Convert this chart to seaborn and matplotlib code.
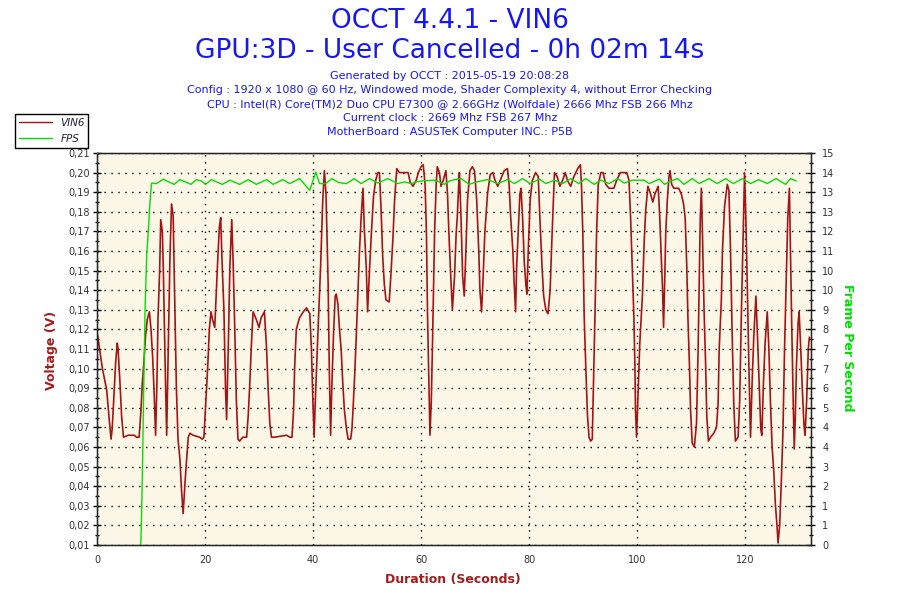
import matplotlib
matplotlib.use("Agg")
import matplotlib.pyplot as plt
from matplotlib.ticker import MultipleLocator, FixedLocator
from matplotlib.lines import Line2D
import seaborn as sns
import pandas as pd
import numpy as np

# ---------------- data ----------------
vin6_time = [0.0, 1.0, 1.8, 2.2, 2.6, 2.8, 3.0, 3.45, 3.75, 3.9, 4.25, 4.55, 4.9, 5.8, 6.9, 7.3, 7.8, 8.1, 8.4, 8.7, 9.0, 9.3, 9.7, 10.0, 10.3, 10.6, 10.85, 11.1, 11.3, 11.6, 11.8, 12.1, 12.3, 12.6, 12.9, 13.2, 13.5, 13.8, 14.1, 14.4, 14.7, 15.0, 15.35, 15.65, 15.95, 16.3, 16.6, 16.9, 17.2, 17.8, 19.0, 19.5, 19.8, 20.1, 20.5, 20.8, 21.1, 21.4, 21.8, 22.1, 22.3, 22.65, 22.9, 23.15, 23.5, 23.8, 24.0, 24.3, 24.6, 24.95, 25.2, 25.5, 25.8, 26.1, 26.4, 27.0, 27.7, 28.0, 28.3, 28.6, 28.9, 29.5, 30.0, 30.4, 31.0, 31.4, 31.7, 32.0, 32.3, 32.9, 35.1, 35.7, 36.1, 36.4, 36.6, 36.9, 37.5, 38.2, 38.8, 39.4, 39.7, 40.0, 40.2, 40.4, 40.9, 41.4, 41.8, 42.1, 42.4, 42.8, 43.0, 43.25, 43.5, 43.8, 44.1, 44.3, 44.6, 44.9, 45.2, 45.5, 45.8, 46.2, 46.5, 46.95, 47.2, 47.4, 47.7, 48.0, 48.3, 48.6, 48.9, 49.25, 49.5, 49.85, 50.1, 50.45, 50.8, 51.2, 51.6, 52.0, 52.3, 52.6, 52.9, 53.2, 53.5, 54.1, 54.4, 54.8, 55.1, 55.5, 56.0, 56.9, 57.6, 58.0, 58.5, 59.1, 59.5, 60.0, 60.4, 60.75, 61.0, 61.2, 61.45, 61.65, 61.9, 62.1, 62.3, 62.5, 62.8, 63.0, 63.4, 63.7, 64.1, 64.6, 64.9, 65.2, 65.5, 65.8, 66.2, 66.5, 66.7, 66.97, 67.1, 67.4, 67.7, 68.0, 68.3, 68.6, 69.05, 69.5, 69.9, 70.3, 70.7, 70.9, 71.2, 71.5, 71.8, 72.3, 72.8, 73.3, 73.7, 74.2, 74.8, 75.4, 76.0, 76.3, 76.6, 77.0, 77.25, 77.5, 77.7, 78.1, 78.3, 78.5, 78.8, 79.1, 79.4, 79.6, 79.85, 80.2, 80.6, 81.2, 81.7, 82.0, 82.4, 82.7, 83.1, 83.5, 83.9, 84.2, 84.5, 84.7, 85.2, 85.7, 86.2, 86.7, 87.1, 87.7, 88.3, 89.0, 89.5, 89.7, 89.95, 90.2, 90.5, 90.8, 91.1, 91.4, 91.7, 91.9, 92.2, 92.5, 92.8, 93.3, 93.7, 94.2, 94.8, 95.7, 96.2, 96.9, 97.6, 98.1, 98.5, 98.8, 99.1, 99.4, 99.6, 99.7, 99.9, 100.2, 100.5, 101.0, 101.3, 101.6, 102.0, 102.4, 102.9, 103.3, 103.9, 104.2, 104.5, 104.7, 104.9, 105.1, 105.3, 105.6, 105.9, 106.1, 106.4, 106.8, 107.7, 108.2, 108.6, 108.9, 109.2, 109.4, 109.7, 109.9, 110.2, 110.6, 111.0, 111.3, 111.5, 111.7, 111.9, 112.1, 112.4, 112.7, 112.9, 113.2, 113.6, 114.2, 114.7, 115.0, 115.2, 115.6, 115.8, 116.2, 116.7, 117.0, 117.3, 117.6, 117.9, 118.2, 118.7, 119.0, 119.3, 119.6, 119.9, 120.1, 120.4, 120.7, 121.0, 121.3, 121.6, 121.9, 122.0, 122.3, 122.6, 122.9, 123.1, 123.4, 123.7, 124.1, 124.4, 124.7, 125.0, 125.3, 125.6, 125.9, 126.1, 126.4, 126.7, 127.0, 127.3, 127.6, 127.9, 128.2, 128.4, 128.6, 128.9, 129.1, 129.3, 129.5, 129.8, 130.0, 130.3, 130.6, 130.9, 131.1, 131.4, 131.7, 131.9]
vin6_volt = [0.119, 0.100, 0.089, 0.076, 0.064, 0.069, 0.079, 0.103, 0.113, 0.110, 0.093, 0.076, 0.065, 0.066, 0.066, 0.065, 0.065, 0.077, 0.093, 0.104, 0.117, 0.125, 0.129, 0.120, 0.106, 0.086, 0.066, 0.093, 0.126, 0.150, 0.176, 0.170, 0.148, 0.104, 0.066, 0.110, 0.156, 0.184, 0.178, 0.134, 0.090, 0.064, 0.054, 0.038, 0.026, 0.042, 0.054, 0.065, 0.067, 0.066, 0.065, 0.064, 0.065, 0.080, 0.101, 0.120, 0.129, 0.125, 0.121, 0.140, 0.152, 0.172, 0.177, 0.155, 0.130, 0.089, 0.074, 0.110, 0.152, 0.176, 0.155, 0.121, 0.084, 0.064, 0.063, 0.065, 0.065, 0.076, 0.093, 0.113, 0.129, 0.125, 0.121, 0.126, 0.129, 0.110, 0.089, 0.072, 0.065, 0.065, 0.066, 0.065, 0.065, 0.079, 0.101, 0.120, 0.126, 0.129, 0.131, 0.128, 0.110, 0.081, 0.065, 0.082, 0.118, 0.152, 0.186, 0.201, 0.189, 0.143, 0.101, 0.066, 0.093, 0.118, 0.137, 0.138, 0.133, 0.120, 0.110, 0.093, 0.079, 0.069, 0.064, 0.064, 0.069, 0.079, 0.096, 0.116, 0.138, 0.160, 0.177, 0.192, 0.171, 0.152, 0.129, 0.150, 0.169, 0.188, 0.196, 0.200, 0.200, 0.181, 0.157, 0.143, 0.135, 0.134, 0.147, 0.167, 0.186, 0.202, 0.200, 0.200, 0.200, 0.195, 0.193, 0.196, 0.200, 0.203, 0.204, 0.194, 0.169, 0.127, 0.093, 0.066, 0.084, 0.110, 0.140, 0.169, 0.194, 0.203, 0.200, 0.193, 0.196, 0.201, 0.189, 0.166, 0.147, 0.130, 0.147, 0.169, 0.177, 0.194, 0.200, 0.177, 0.147, 0.137, 0.160, 0.186, 0.201, 0.203, 0.201, 0.186, 0.159, 0.140, 0.129, 0.147, 0.169, 0.189, 0.199, 0.200, 0.196, 0.193, 0.197, 0.201, 0.202, 0.194, 0.177, 0.160, 0.143, 0.129, 0.152, 0.177, 0.189, 0.192, 0.177, 0.155, 0.143, 0.138, 0.160, 0.186, 0.196, 0.200, 0.198, 0.177, 0.152, 0.137, 0.130, 0.128, 0.140, 0.164, 0.186, 0.200, 0.198, 0.193, 0.196, 0.200, 0.196, 0.193, 0.198, 0.202, 0.204, 0.194, 0.169, 0.127, 0.101, 0.077, 0.065, 0.063, 0.064, 0.089, 0.127, 0.169, 0.194, 0.200, 0.200, 0.194, 0.192, 0.192, 0.196, 0.200, 0.200, 0.200, 0.196, 0.177, 0.152, 0.127, 0.101, 0.079, 0.065, 0.089, 0.113, 0.138, 0.164, 0.181, 0.193, 0.190, 0.185, 0.189, 0.193, 0.177, 0.155, 0.142, 0.121, 0.143, 0.169, 0.186, 0.198, 0.201, 0.194, 0.192, 0.192, 0.189, 0.184, 0.177, 0.152, 0.127, 0.101, 0.079, 0.062, 0.060, 0.072, 0.110, 0.143, 0.177, 0.192, 0.169, 0.130, 0.101, 0.076, 0.063, 0.065, 0.067, 0.070, 0.082, 0.110, 0.135, 0.160, 0.183, 0.194, 0.191, 0.160, 0.118, 0.082, 0.063, 0.065, 0.084, 0.127, 0.164, 0.200, 0.181, 0.143, 0.101, 0.065, 0.093, 0.116, 0.132, 0.137, 0.116, 0.093, 0.069, 0.066, 0.093, 0.113, 0.129, 0.110, 0.082, 0.060, 0.048, 0.031, 0.020, 0.011, 0.020, 0.042, 0.067, 0.110, 0.143, 0.177, 0.192, 0.160, 0.127, 0.084, 0.059, 0.076, 0.101, 0.123, 0.129, 0.110, 0.089, 0.071, 0.066, 0.084, 0.110, 0.116]

fps_time = [8.1, 8.25, 8.45, 8.6, 8.75, 8.9, 9.2, 9.5, 9.8, 10.1, 11.0, 12.3, 13.2, 14.3, 15.3, 16.3, 17.4, 18.4, 19.3, 20.1, 21.2, 23.2, 24.6, 26.4, 28.0, 29.5, 31.4, 32.6, 34.4, 35.7, 37.5, 39.4, 40.5, 41.2, 42.3, 43.5, 44.7, 46.2, 47.6, 48.9, 50.45, 52.0, 53.85, 55.7, 56.9, 58.2, 59.1, 60.1, 62.5, 63.4, 64.3, 65.3, 66.2, 67.4, 68.9, 70.2, 72.3, 74.2, 76.0, 77.3, 78.8, 80.2, 81.9, 83.1, 84.7, 86.2, 87.7, 89.2, 90.5, 92.05, 93.3, 94.8, 96.4, 97.6, 99.1, 101.3, 102.2, 104.1, 105.1, 106.2, 107.5, 108.7, 110.2, 111.5, 113.3, 114.8, 116.4, 117.8, 119.5, 121.0, 122.5, 124.1, 125.7, 127.5, 128.4, 129.5]
fps_value = [0.0, 1.1, 3.3, 5.4, 7.2, 9.0, 11.1, 12.0, 13.1, 13.85, 13.83, 14.0, 13.9, 13.8, 13.98, 13.9, 13.8, 13.98, 13.93, 13.8, 13.98, 13.8, 13.96, 13.8, 13.98, 13.8, 13.98, 13.8, 13.98, 13.83, 14.02, 13.57, 14.27, 13.83, 13.83, 14.02, 13.87, 13.83, 14.02, 13.83, 14.02, 13.85, 14.02, 13.83, 13.89, 13.83, 13.89, 13.93, 13.96, 13.89, 13.8, 13.93, 13.98, 14.02, 13.8, 13.89, 13.98, 13.83, 13.98, 13.83, 14.02, 13.83, 14.0, 13.83, 13.96, 13.83, 14.02, 13.83, 14.02, 13.8, 13.96, 13.83, 14.02, 13.85, 13.96, 13.96, 13.83, 14.0, 13.8, 13.93, 14.02, 13.8, 14.02, 13.83, 14.02, 13.83, 14.02, 13.83, 14.02, 13.83, 13.98, 13.83, 14.02, 13.8, 14.02, 13.93]

volt_ticks = [0.01, 0.02, 0.03, 0.04, 0.05, 0.06, 0.07, 0.08, 0.09, 0.10, 0.11, 0.12, 0.13, 0.14, 0.15, 0.16, 0.17, 0.18, 0.19, 0.20, 0.21]
volt_tick_labels = ["0,01", "0,02", "0,03", "0,04", "0,05", "0,06", "0,07", "0,08", "0,09", "0,10", "0,11", "0,12", "0,13", "0,14", "0,15", "0,16", "0,17", "0,18", "0,19", "0,20", "0,21"]
fps_ticks = [0, 0.75, 1.5, 2.25, 3, 3.75, 4.5, 5.25, 6, 6.75, 7.5, 8.25, 9, 9.75, 10.5, 11.25, 12, 12.75, 13.5, 14.25, 15]
fps_tick_labels = ["0", "1", "1", "2", "3", "4", "4", "5", "6", "7", "7", "8", "9", "10", "10", "11", "12", "13", "13", "14", "15"]
time_ticks = [0, 20, 40, 60, 80, 100, 120]

title_lines = ["OCCT 4.4.1 - VIN6", "GPU:3D - User Cancelled - 0h 02m 14s"]
info_lines = ["Generated by OCCT : 2015-05-19 20:08:28",
              "Config : 1920 x 1080 @ 60 Hz, Windowed mode, Shader Complexity 4, without Error Checking",
              "CPU : Intel(R) Core(TM)2 Duo CPU E7300 @ 2.66GHz (Wolfdale) 2666 Mhz FSB 266 Mhz",
              "Current clock : 2669 Mhz FSB 267 Mhz",
              "MotherBoard : ASUSTeK Computer INC.: P5B"]

# ---------------- style ----------------
sns.set_style("white")
plt.rcParams['font.family'] = ['DejaVu Sans']

RED = "#a31515"
GREEN = "#00e000"
BLUE = "#1717f5"
LABEL_RED = "#a61c1c"
BG = "#fdf7e8"

df_v = pd.DataFrame({"t": vin6_time, "v": vin6_volt})
df_f = pd.DataFrame({"t": fps_time, "f": fps_value})

fig = plt.figure(figsize=(9, 6), dpi=100)
W, H = 900, 600
ax = fig.add_axes([97 / W, 1 - 545 / H, (811 - 97) / W, (545 - 153) / H])
ax.set_facecolor(BG)

sns.lineplot(data=df_v, x="t", y="v", ax=ax, color=RED, linewidth=1.2,
             estimator=None, sort=False)
ax.set_xlim(0, 132.2)
ax.set_ylim(0.01, 0.21)
ax.set_xlabel("")
ax.set_ylabel("")

ax.yaxis.set_major_locator(FixedLocator(volt_ticks))
ax.set_yticklabels(volt_tick_labels)
ax.yaxis.set_minor_locator(MultipleLocator(0.005))
ax.xaxis.set_major_locator(FixedLocator(time_ticks))
ax.set_xticklabels([str(t) for t in time_ticks])
ax.xaxis.set_minor_locator(MultipleLocator(5))

ax.tick_params(axis='y', which='major', direction='inout', length=6, width=1,
               color='black', labelsize=7, labelcolor='#333333', pad=2)
ax.tick_params(axis='y', which='minor', direction='inout', length=3.5, width=1, color='black')
ax.tick_params(axis='x', which='major', direction='inout', length=7, width=1,
               color='black', labelsize=7, labelcolor='#333333', pad=4)
ax.tick_params(axis='x', which='minor', direction='in', length=4, width=1, color='black')

ax.grid(True, which='major', axis='both', color='black', linestyle=(0, (1, 4)), linewidth=1)
for s in ax.spines.values():
    s.set_color('black')
    s.set_linewidth(1)
    s.set_visible(True)

ax2 = ax.twinx()
sns.lineplot(data=df_f, x="t", y="f", ax=ax2, color=GREEN, linewidth=1.0,
             estimator=None, sort=False)
ax2.set_ylim(0, 15)
ax2.set_ylabel("")
ax2.yaxis.set_major_locator(FixedLocator(fps_ticks))
ax2.set_yticklabels(fps_tick_labels)
ax2.yaxis.set_minor_locator(FixedLocator([x + 0.375 for x in fps_ticks[:-1]]))
ax2.tick_params(axis='y', which='major', direction='inout', length=6, width=1,
                color='black', labelsize=7, labelcolor='#333333', pad=5)
ax2.tick_params(axis='y', which='minor', direction='inout', length=3.5, width=1, color='black')
ax2.set_xlim(0, 132.2)

# ---------------- texts ----------------
fig.text(450 / W, 1 - 21 / H, title_lines[0], ha='center', va='center', fontsize=19, color=BLUE)
fig.text(450 / W, 1 - 51 / H, title_lines[1], ha='center', va='center', fontsize=19, color=BLUE)
for i, line in enumerate(info_lines):
    fig.text(450 / W, 1 - (76 + 14 * i) / H, line, ha='center', va='center', fontsize=8, color=BLUE)

fig.text(52 / W, 1 - 350 / H, "Voltage (V)", rotation=90, ha='center', va='center',
         fontsize=9, fontweight='bold', color=LABEL_RED)
fig.text(453 / W, 1 - 580 / H, "Duration (Seconds)", ha='center', va='center',
         fontsize=9, fontweight='bold', color=LABEL_RED)
fig.text(848 / W, 1 - 348 / H, "Frame Per Second", rotation=270, ha='center', va='center',
         fontsize=9, fontweight='bold', color=GREEN)

handles = [Line2D([], [], color=RED, linewidth=1), Line2D([], [], color=GREEN, linewidth=1)]
leg = fig.legend(handles, ["VIN6", "FPS"], loc='upper left',
                 bbox_to_anchor=(15 / W, 1 - 114 / H), frameon=True, fancybox=False,
                 edgecolor='black', framealpha=1, fontsize=7.5, handlelength=3.2,
                 borderpad=0.35, labelspacing=0.6, handletextpad=0.8, borderaxespad=0)
leg.get_frame().set_linewidth(1)
for txt in leg.get_texts():
    txt.set_fontstyle('italic')
    txt.set_color('#202040')

fig.savefig("out.png", dpi=100, facecolor='white')
